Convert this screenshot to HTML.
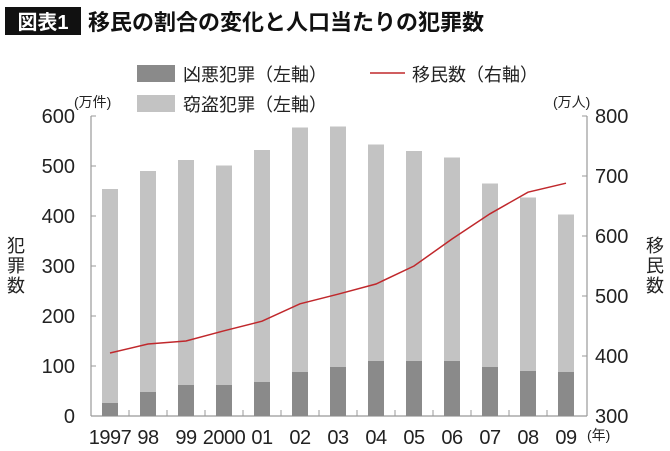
<!DOCTYPE html>
<html><head><meta charset="utf-8"><style>
body{margin:0;background:#fff;}
svg{display:block;font-family:"Liberation Sans","Noto Sans CJK JP",sans-serif;}
</style></head><body>
<svg width="670" height="451" viewBox="0 0 670 451">
<rect x="5" y="7" width="76" height="28" fill="#111"/>
<text x="43" y="29" fill="#fff" font-size="20" font-weight="bold" text-anchor="middle">図表1</text>
<text x="88" y="30" fill="#111" font-size="22" font-weight="bold">移民の割合の変化と人口当たりの犯罪数</text>
<rect x="137" y="65" width="38" height="17" fill="#8a8a8a"/>
<text x="183" y="81" font-size="18" fill="#222">凶悪犯罪（左軸）</text>
<line x1="370" y1="73" x2="405" y2="73" stroke="#c0282c" stroke-width="1.5"/>
<text x="412" y="81" font-size="18" fill="#222">移民数（右軸）</text>
<rect x="137" y="95" width="38" height="17" fill="#c3c3c3"/>
<text x="183" y="111" font-size="18" fill="#222">窃盗犯罪（左軸）</text>
<text x="74" y="107" font-size="14" fill="#222">(万件)</text>
<text x="553" y="107" font-size="14" fill="#222">(万人)</text>
<g font-size="18" fill="#222"><text x="7" y="252">犯</text><text x="7" y="272">罪</text><text x="7" y="292">数</text></g>
<g font-size="18" fill="#222"><text x="646" y="252">移</text><text x="646" y="272">民</text><text x="646" y="292">数</text></g>
<g id="plot"></g>
<text x="587" y="440" font-size="14" fill="#222">(年)</text>
</svg>
<script>
const years=["1997","98","99","2000","01","02","03","04","05","06","07","08","09"];
const totalCrime=[454,490,512,501,532,577,579,543,530,517,465,437,403];
const violentCrime=[26,48,62,62,68,88,98,110,110,110,98,90,88];
const immigrants=[405,420,425,442,458,487,503,520,550,595,637,673,688];
const leftTicks=[0,100,200,300,400,500,600];
const rightTicks=[300,400,500,600,700,800];
const NS="http://www.w3.org/2000/svg";
const g=document.getElementById('plot');
const X0=91,X1=587,Y0=416,Y1=116;
const yL=v=>Y0-(v/600)*(Y0-Y1);
const yR=v=>Y0-((v-300)/500)*(Y0-Y1);
const xC=i=>110+i*38;
function mk(t,a){const e=document.createElementNS(NS,t);for(const k in a)e.setAttribute(k,a[k]);g.appendChild(e);return e;}
let e;
e=mk('line',{x1:X0,y1:Y1,x2:X0,y2:Y0,stroke:'#999','stroke-width':1.2});


e=mk('line',{x1:X1,y1:Y1,x2:X1,y2:Y0,stroke:'#999','stroke-width':1.2});


e=mk('line',{x1:X0,y1:Y0,x2:X1,y2:Y0,stroke:'#999','stroke-width':1.2});


leftTicks.forEach(v=>{
 e=mk('line',{x1:X0,y1:yL(v),x2:X0+5,y2:yL(v),stroke:'#999'});
 
 
 e=mk('text',{x:75,y:yL(v)+7,'font-size':20,'text-anchor':'end',fill:'#222'});e.textContent=v;
 
 
});
rightTicks.forEach(v=>{
 e=mk('line',{x1:X1-5,y1:yR(v),x2:X1,y2:yR(v),stroke:'#999'});
 
 
 e=mk('text',{x:595,y:yR(v)+7,'font-size':20,fill:'#222'});e.textContent=v;
 
 
});
years.forEach((y,i)=>{
 const cx=xC(i),w=16;
 e=mk('rect',{x:cx-w/2,y:yL(totalCrime[i]),width:w,height:yL(violentCrime[i])-yL(totalCrime[i]),fill:'#c3c3c3'});
 
 
 e=mk('rect',{x:cx-w/2,y:yL(violentCrime[i]),width:w,height:Y0-yL(violentCrime[i]),fill:'#8a8a8a'});
 
 
 if(i>0){e=mk('line',{x1:cx-19,y1:Y0-6,x2:cx-19,y2:Y0,stroke:'#999'});
 
 }
 e=mk('text',{x:cx,y:444,'font-size':20,'text-anchor':'middle',fill:'#222','letter-spacing':'-0.5'});e.textContent=y;
 
 
});
e=mk('polyline',{points:immigrants.map((v,i)=>xC(i)+','+yR(v)).join(' '),fill:'none',stroke:'#c0282c','stroke-width':1.5});


</script>
</body></html>
